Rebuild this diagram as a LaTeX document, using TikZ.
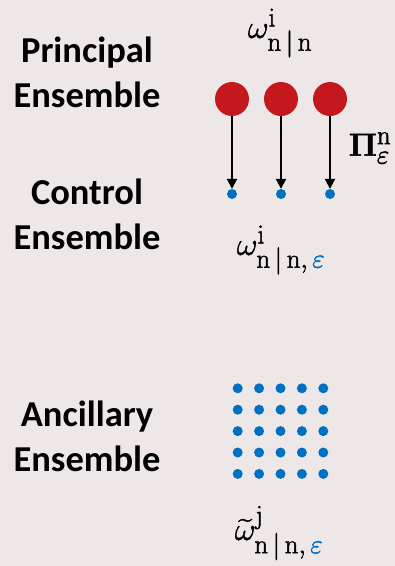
\RequirePackage{fix-cm}
\documentclass[tikz,border=0pt]{standalone}
\usepackage{amsmath}
\usepackage[no-math]{fontspec}
\newfontfamily\labelfont{Carlito}
\usetikzlibrary{arrows.meta}
\definecolor{bg}{RGB}{237,231,232}
\definecolor{ballred}{RGB}{197,24,29}
\definecolor{dotblue}{RGB}{0,112,192}
\DeclareMathSizes{32}{32}{27}{20}
% slightly heavier strokes for the formulas
\newcommand{\heavier}[1]{\special{pdf:literal direct 2 Tr 0.45 w}#1\special{pdf:literal direct 0 Tr 1 w}}
\tikzset{
  grouplabel/.style={font=\labelfont\bfseries\fontsize{36.5}{45}\selectfont, align=center, inner sep=0pt},
  mathlabel/.style={font=\fontsize{32}{34}\selectfont, inner sep=0pt},
  particle/.style={circle, fill=ballred, minimum size=34pt, inner sep=0pt},
  sample/.style={circle, fill=dotblue, minimum size=10pt, inner sep=0pt},
  link/.style={line width=2pt, -{Triangle[width=10pt,length=10pt]}},
}
\begin{document}
\begin{tikzpicture}[x=1pt,y=-1pt]
  \fill[bg] (0,0) rectangle (395,566);
  \useasboundingbox (0,0) rectangle (395,566);

  % ensemble names
  \node[grouplabel] (principal) at (87,72.5) {Principal\\Ensemble};
  \node[grouplabel] (control)   at (87,214)  {Control\\Ensemble};
  \node[grouplabel] (ancillary) at (87,436)  {Ancillary\\Ensemble};

  % principal particles projected onto control samples
  \foreach \i/\x in {1/232,2/281,3/330} {
    \node[particle] (p\i) at (\x,99) {};
    \node[sample]   (c\i) at (\x,194) {};
    \draw[link] (p\i) -- (c\i);
  }

  % ancillary sample grid
  \foreach \r in {0,...,4} {
    \foreach \c in {0,...,4} {
      \node[sample] (g\r\c) at ({237.7+21.4*\c},{388.3+21.4*\r}) {};
    }
  }

  % formulas
  \node[mathlabel] (wtop) at (280,33)  {\heavier{$\omega^{\mathrm{i}}_{\mathrm{n}\,|\,\mathrm{n}}$}};
  \node[mathlabel] (proj) at (370,148) {\heavier{$\mathbf{\Pi}^{\mathrm{n}}_{\varepsilon}$}};
  \node[mathlabel] (wctl) at (281,250) {\heavier{$\omega^{\mathrm{i}}_{\mathrm{n}\,|\,\mathrm{n},\,\textcolor{dotblue}{\varepsilon}}$}};
  \node[mathlabel] (wanc) at (279,533) {\heavier{$\widetilde{\omega}^{\mathrm{j}}_{\mathrm{n}\,|\,\mathrm{n},\,\textcolor{dotblue}{\varepsilon}}$}};
\end{tikzpicture}
\end{document}
